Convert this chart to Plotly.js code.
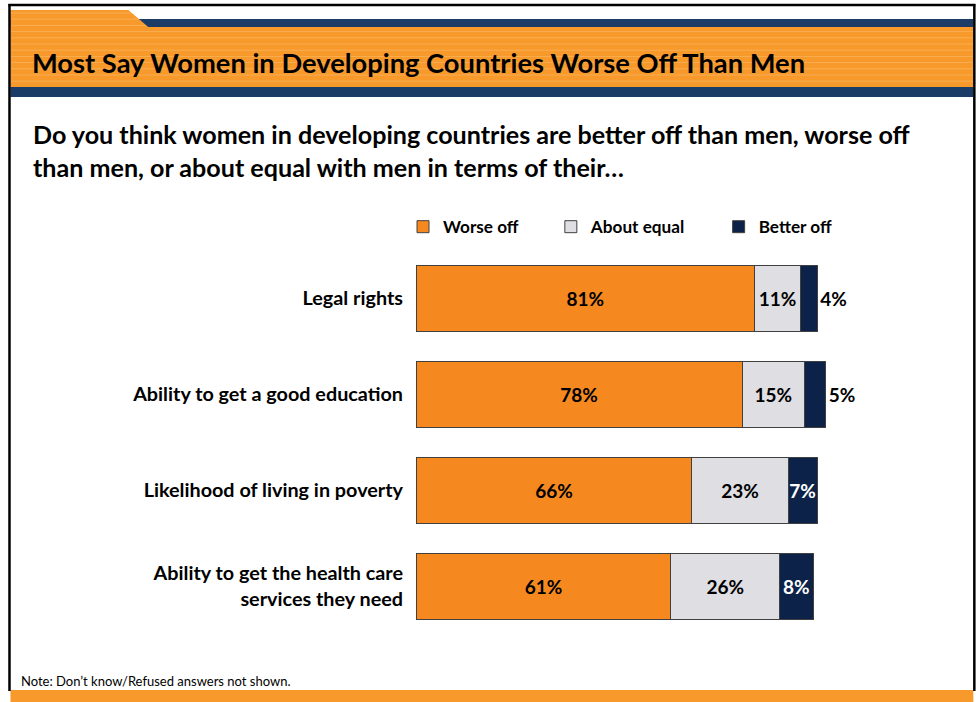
<!DOCTYPE html>
<html>
<head>
<meta charset="utf-8">
<script src="https://cdn.plot.ly/plotly-3.0.1.min.js"></script>
<style>
html,body{margin:0;padding:0;background:#fff;}
#chart{width:976px;height:702px;}
</style>
</head>
<body>
<div id="chart"></div>
<script>
// ---- Data ----
const categories = [
  "Legal rights",
  "Ability to get a good education",
  "Likelihood of living in poverty",
  "Ability to get the health care<br>services they need"
];
const worseOff = [81, 78, 66, 61];
const aboutEqual = [11, 15, 23, 26];
const betterOff = [4, 5, 7, 8];
const seriesNames = ["Worse off", "About equal", "Better off"];

const titleText = "Most Say Women in Developing Countries Worse Off Than Men";
const questionLine1 = "Do you think women in developing countries are better off than men, worse off";
const questionLine2 = "than men, or about equal with men in terms of their…";
const noteText = "Note: Don\u2019t know/Refused answers not shown.";

// ---- Layout geometry (pixels -> paper coords) ----
const W = 976, H = 702;
const plotL = 416, plotR = 834.5, plotT = 250, plotB = 634;
const px = x => (x - plotL) / (plotR - plotL);
const py = y => (plotB - y) / (plotB - plotT);

const FONT = "Lato, 'Open Sans', sans-serif";
const ORANGE_HDR = "#F7992B";
const NAVY_HDR = "#1B3C66";
const lineCol = "#404040";

const barText = {family: FONT, size: 19, color: "#000", weight: 700};

const traces = [
  {
    type: "bar", orientation: "h", name: seriesNames[0],
    y: categories, x: worseOff,
    marker: {color: "#F5891F", line: {color: lineCol, width: 1}},
    texttemplate: "%{x}%", textposition: "inside", insidetextanchor: "middle",
    insidetextfont: barText, constraintext: "none", textangle: 0,
    hoverinfo: "x+name", legend: "legend"
  },
  {
    type: "bar", orientation: "h", name: seriesNames[1],
    y: categories, x: aboutEqual,
    marker: {color: "#DEDEE3", line: {color: lineCol, width: 1}},
    texttemplate: "%{x}%", textposition: "inside", insidetextanchor: "middle",
    insidetextfont: barText, constraintext: "none", textangle: 0,
    hoverinfo: "x+name", legend: "legend2"
  },
  {
    type: "bar", orientation: "h", name: seriesNames[2],
    y: categories, x: betterOff,
    marker: {color: "#0C2249", line: {color: lineCol, width: 1}},
    texttemplate: "%{x}%",
    textposition: betterOff.map(v => v < 6 ? "outside" : "inside"),
    insidetextanchor: "middle", textangle: 0,
    insidetextfont: Object.assign({}, barText, {color: "#fff"}),
    outsidetextfont: barText,
    constraintext: "none", cliponaxis: false,
    hoverinfo: "x+name", legend: "legend3"
  }
];

// decorative shapes
const shapes = [];
function rectPx(x0, y0, x1, y1, color) {
  shapes.push({type: "rect", xref: "paper", yref: "paper", layer: "below",
    x0: px(x0), x1: px(x1), y0: py(y1), y1: py(y0),
    fillcolor: color, line: {width: 0}});
}
function linePx(x0, y0, x1, y1, color, w) {
  shapes.push({type: "line", xref: "paper", yref: "paper", layer: "above",
    x0: px(x0), x1: px(x1), y0: py(y0), y1: py(y1),
    line: {color: color, width: w}});
}
// header navy top stripe
rectPx(10, 19, 974, 27, NAVY_HDR);
// orange header with tab
const pts = [[10,10],[128,10],[148,27],[974,27],[974,87],[10,87]];
shapes.push({type: "path", xref: "paper", yref: "paper", layer: "below",
  path: "M" + pts.map(p => px(p[0]) + "," + py(p[1])).join(" L") + " Z",
  fillcolor: ORANGE_HDR, line: {width: 0}});
// subtle stripes
for (let y = 13; y < 87; y += 6.2) {
  const x1 = y < 27 ? 128 + (y - 10) * 20 / 17 - 1 : 974;
  shapes.push({type: "line", xref: "paper", yref: "paper", layer: "below",
    x0: px(10), x1: px(x1), y0: py(y), y1: py(y),
    line: {color: "rgba(255,200,130,0.45)", width: 1}});
}
// header navy bottom stripe
rectPx(10, 87, 974, 97, NAVY_HDR);
// bottom orange band
rectPx(10, 690, 974, 702, ORANGE_HDR);
// black frame
linePx(8, 5, 976, 5, "#000", 2.5);
linePx(9, 4, 9, 691, "#000", 2.5);
linePx(975, 4, 975, 691, "#000", 2.5);

const annotations = [
  {text: "<b>" + titleText + "</b>", x: px(30), y: py(63), xref: "paper", yref: "paper",
   xanchor: "left", yanchor: "middle", showarrow: false,
   font: {family: FONT, size: 27.3, color: "#000"}},
  {text: "<b>" + questionLine1 + "</b>", x: px(31), y: py(134), xref: "paper", yref: "paper",
   xanchor: "left", yanchor: "middle", showarrow: false,
   font: {family: FONT, size: 25.1, color: "#000"}},
  {text: "<b>" + questionLine2 + "</b>", x: px(31), y: py(167), xref: "paper", yref: "paper",
   xanchor: "left", yanchor: "middle", showarrow: false,
   font: {family: FONT, size: 25.1, color: "#000"}},
  {text: noteText, x: px(19), y: py(681), xref: "paper", yref: "paper",
   xanchor: "left", yanchor: "middle", showarrow: false,
   font: {family: FONT, size: 13, color: "#000"}}
];

const legendBase = {orientation: "h", yanchor: "middle", xanchor: "left",
  y: py(227), bgcolor: "rgba(0,0,0,0)", borderwidth: 0,
  font: {family: FONT, size: 17.2, color: "#000", weight: 700}};

const layout = {
  width: W, height: H,
  margin: {l: plotL, r: W - plotR, t: plotT, b: H - plotB, pad: 0},
  paper_bgcolor: "#fff", plot_bgcolor: "#fff",
  barmode: "stack", bargap: 0.3125,
  showlegend: true,
  legend: Object.assign({}, legendBase, {x: px(403)}),
  legend2: Object.assign({}, legendBase, {x: px(551)}),
  legend3: Object.assign({}, legendBase, {x: px(719)}),
  xaxis: {range: [0, 100], visible: false, fixedrange: true},
  yaxis: {type: "category", range: [3.5, -0.5], showgrid: false, zeroline: false,
    showline: false, ticks: "", ticklabelstandoff: 12,
    tickfont: {family: FONT, size: 19.8, color: "#000", weight: 700}, fixedrange: true},
  shapes: shapes,
  annotations: annotations,
  font: {family: FONT}
};

Plotly.newPlot("chart", traces, layout, {displayModeBar: false, staticPlot: true});
</script>
</body>
</html>
